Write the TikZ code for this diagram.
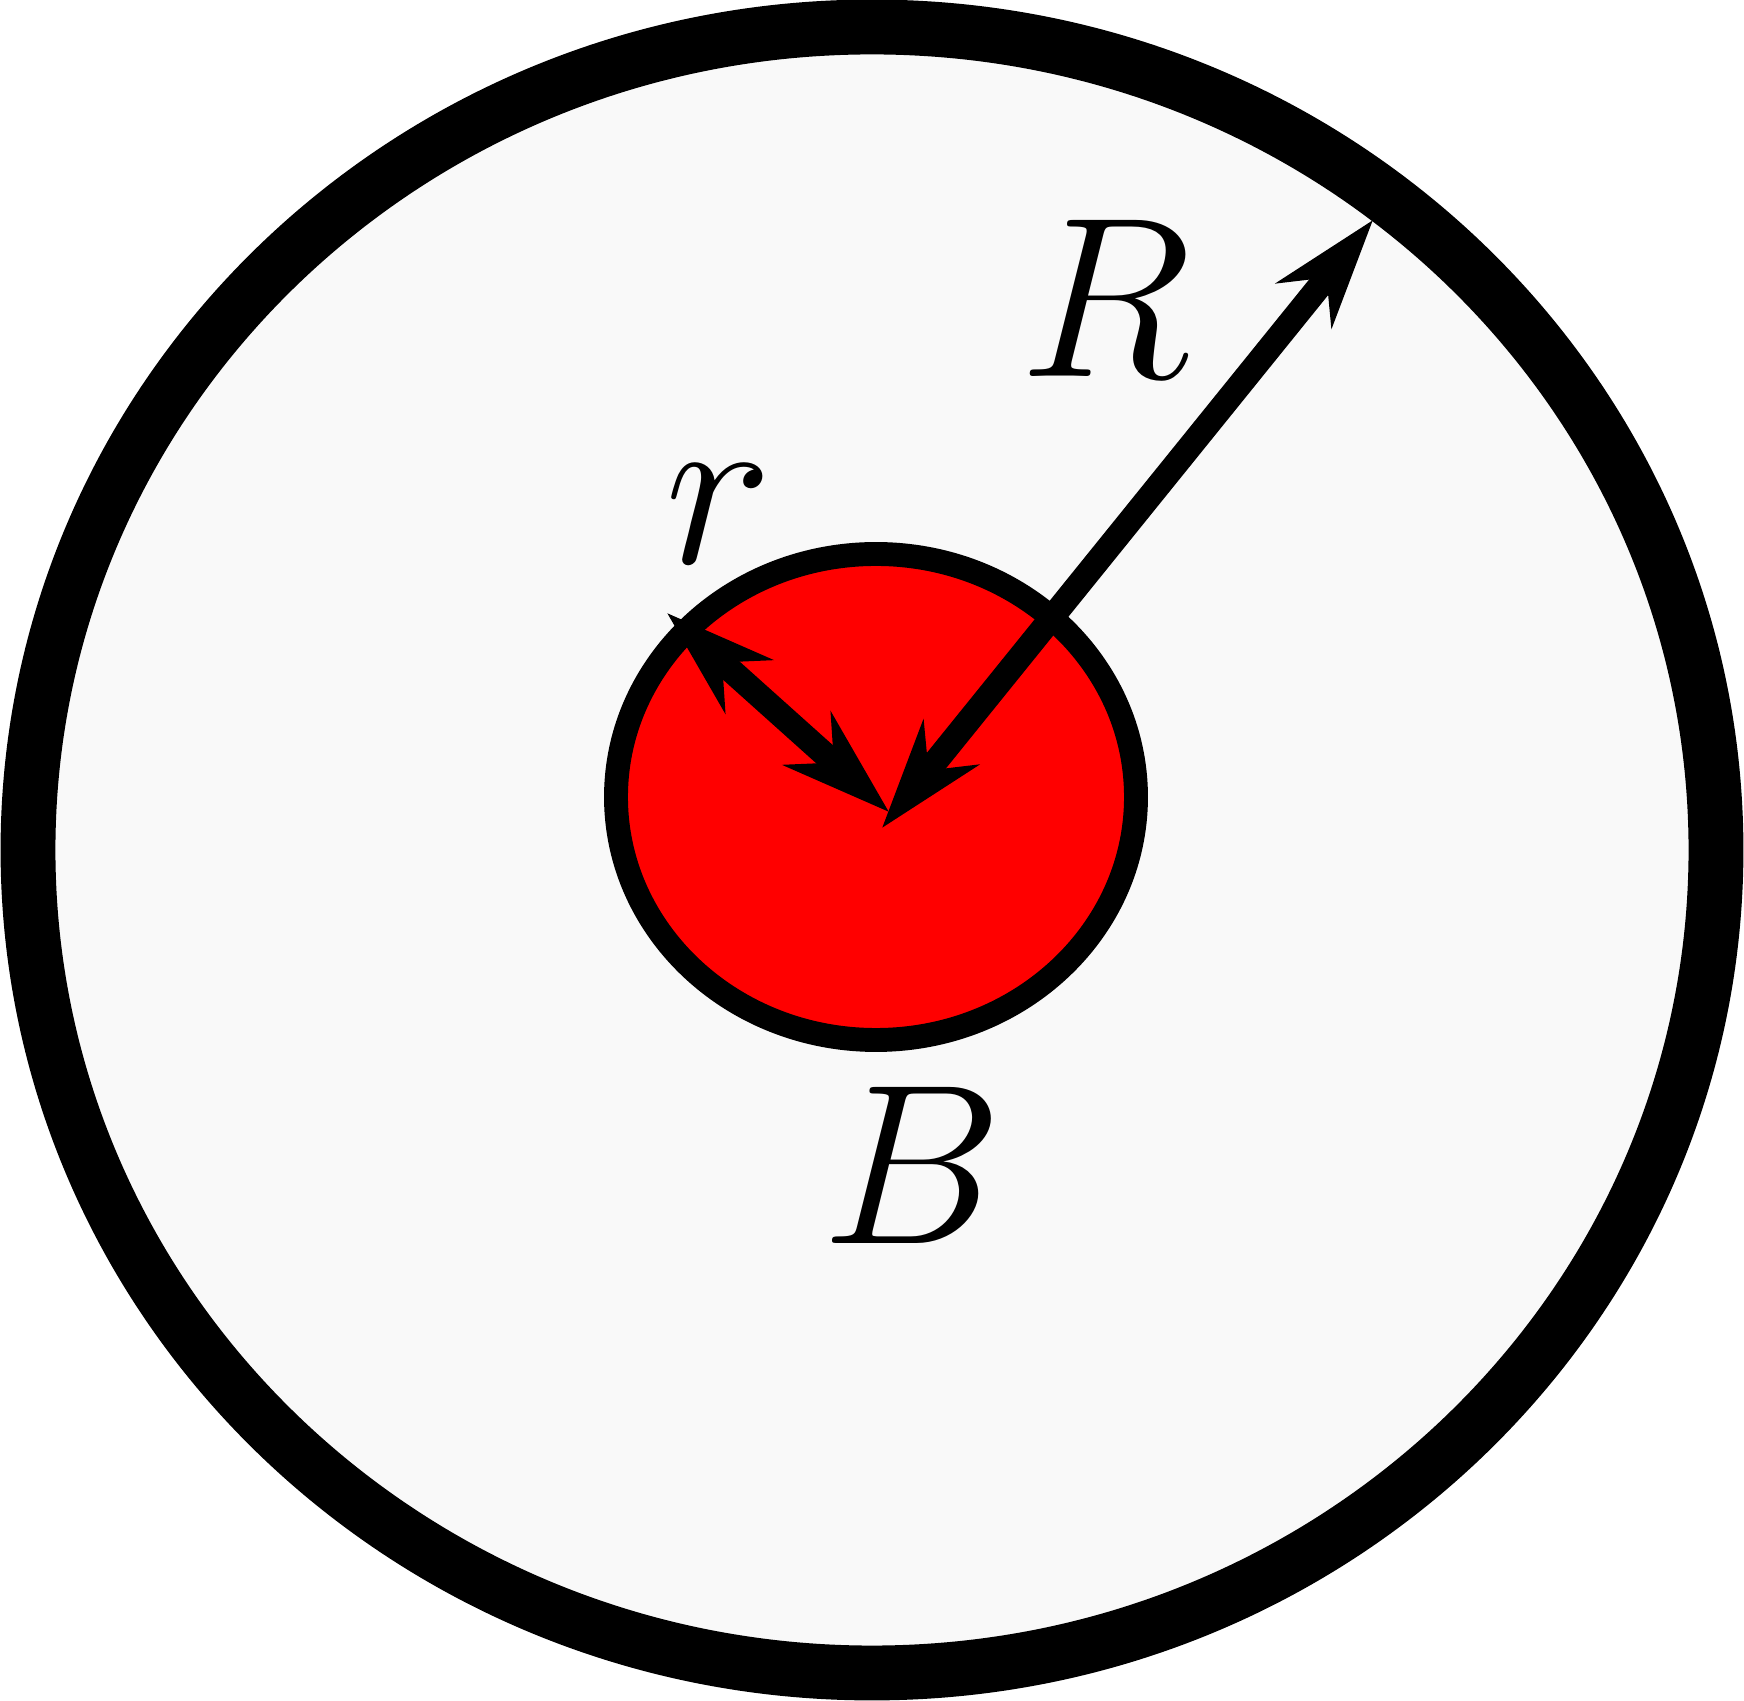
\documentclass[tikz,border=0pt]{standalone}
\usetikzlibrary{arrows.meta}
\definecolor{discfill}{HTML}{F9F9F9}
\begin{document}
\begin{tikzpicture}[x=0.01cm,y=-0.01cm,
  ringline/.style={draw=black,line width=15.6pt,fill=discfill},
  ballline/.style={draw=black,line width=6.8pt,fill=red},
  head/.tip={Stealth[length=31pt,width=20pt,inset=10pt]},
  double radius arrow/.style={line width=7pt,draw=black,arrows={head-head}},
  lbl/.style={inner sep=0pt,scale=2.6125,font=\fontsize{24.88}{30}\selectfont}]
\useasboundingbox (0,0) rectangle (1744,1701);
\draw[ringline] (872,850) ellipse [x radius=844, y radius=823];
\draw[ballline] (876,797) ellipse [x radius=260, y radius=243];
\coordinate (rtop) at (667,613);
\coordinate (rbot) at (889,812);
\coordinate (Rbot) at (882,828);
\coordinate (Rtop) at (1373,220);
\draw[double radius arrow] (rtop) -- (rbot);
\draw[double radius arrow] (Rbot) -- (Rtop);
\node[lbl] (Rlab) at (1106,298) {$R$};
\node[lbl] (rlab) at (719,514) {$r$};
\node[lbl] (Blab) at (912,1165) {$B$};
\end{tikzpicture}
\end{document}
